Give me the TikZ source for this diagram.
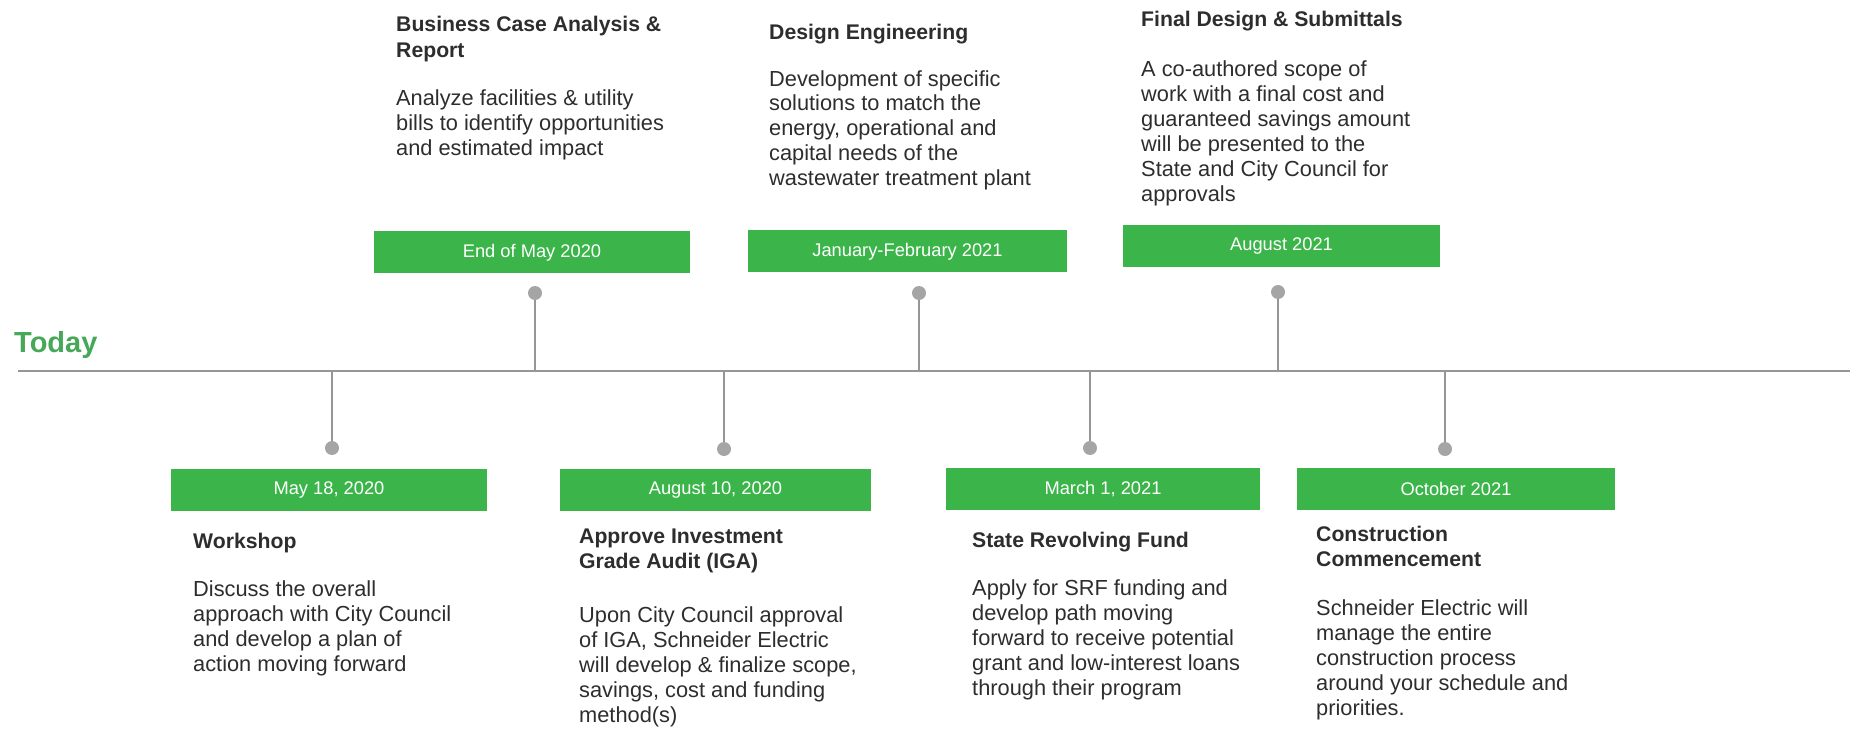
\documentclass[tikz,border=0pt]{standalone}
\usepackage{fontspec}
\setmainfont{Liberation Sans}
\definecolor{boxgreen}{RGB}{59,181,74}
\definecolor{todaygreen}{RGB}{70,168,88}
\definecolor{linegray}{RGB}{150,150,150}
\definecolor{dotgray}{RGB}{165,165,165}
\definecolor{txt}{RGB}{45,45,45}
\begin{document}
\begin{tikzpicture}[x=1pt,y=-1pt,
 datebox/.style={fill=boxgreen, text=white, inner sep=0pt, minimum height=42pt, font=\fontsize{18.3}{20}\selectfont},
 dot/.style={circle, fill=dotgray, inner sep=0pt, minimum size=14pt},
 stem/.style={draw=linegray, line width=2pt},
 axis/.style={draw=linegray, line width=2.5pt},
 title/.style={anchor=base west, align=left, inner sep=0pt, text=txt, font=\bfseries\fontsize{21.2}{25.5}\selectfont},
 body/.style={anchor=base west, align=left, inner sep=0pt, text=txt, font=\fontsize{21.8}{25}\selectfont}]
\useasboundingbox (0,0) rectangle (1856,730);

% axis
\coordinate (L) at (18,371);
\coordinate (R) at (1850,371);
\draw[axis] (L) -- (R);
\node[anchor=base west, inner sep=0pt, text=todaygreen, font=\bfseries\fontsize{29}{30}\selectfont] (today) at (14,352) {Today};

% upper events (node base = baseline of the last line)
\node[datebox, minimum width=316pt] (b1) at (532,252.5) {End of May 2020};
\node[dot] (d1) at (535,293) {};
\draw[stem] (d1) -- (d1 |- L);
\node[title] (t1) at (396,57.5) {Business Case Analysis \&\\Report};
\node[body] (x1) at (396,156) {Analyze facilities \& utility\\bills to identify opportunities\\and estimated impact};

\node[datebox, minimum width=319pt] (b2) at (907.5,251.5) {January-February 2021};
\node[dot] (d2) at (919,293) {};
\draw[stem] (d2) -- (d2 |- L);
\node[title] (t2) at (769,40) {Design Engineering};
\node[body] (x2) at (769,186) {Development of specific\\solutions to match the\\energy, operational and\\capital needs of the\\wastewater treatment plant};

\node[datebox, minimum width=317pt] (b3) at (1281.5,246.5) {August 2021};
\node[dot] (d3) at (1278,292) {};
\draw[stem] (d3) -- (d3 |- L);
\node[title] (t3) at (1141,27) {Final Design \& Submittals};
\node[body] (x3) at (1141,202) {A co-authored scope of\\work with a final cost and\\guaranteed savings amount\\will be presented to the\\State and City Council for\\approvals};

% lower events
\node[datebox, minimum width=316pt] (b4) at (329,490) {May 18, 2020};
\node[dot] (d4) at (332,448) {};
\draw[stem] (d4) -- (d4 |- L);
\node[title] (t4) at (193,548) {Workshop};
\node[body] (x4) at (193,671) {Discuss the overall\\approach with City Council\\and develop a plan of\\action moving forward};

\node[datebox, minimum width=311pt] (b5) at (715.5,490) {August 10, 2020};
\node[dot] (d5) at (724,449) {};
\draw[stem] (d5) -- (d5 |- L);
\node[title] (t5) at (579,568.5) {Approve Investment\\Grade Audit (IGA)};
\node[body] (x5) at (579,722) {Upon City Council approval\\of IGA, Schneider Electric\\will develop \& finalize scope,\\savings, cost and funding\\method(s)};

\node[datebox, minimum width=314pt] (b6) at (1103,489) {March 1, 2021};
\node[dot] (d6) at (1090,448) {};
\draw[stem] (d6) -- (d6 |- L);
\node[title] (t6) at (972,547) {State Revolving Fund};
\node[body] (x6) at (972,695) {Apply for SRF funding and\\develop path moving\\forward to receive potential\\grant and low-interest loans\\through their program};

\node[datebox, minimum width=318pt] (b7) at (1456,489) {October 2021};
\node[dot] (d7) at (1445,449) {};
\draw[stem] (d7) -- (d7 |- L);
\node[title] (t7) at (1316,566.5) {Construction\\Commencement};
\node[body] (x7) at (1316,715) {Schneider Electric will\\manage the entire\\construction process\\around your schedule and\\priorities.};
\end{tikzpicture}
\end{document}
